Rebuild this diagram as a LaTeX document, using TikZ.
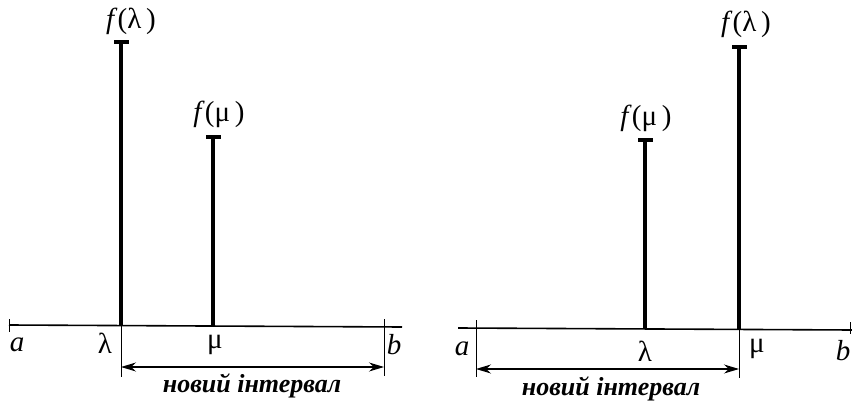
\documentclass[tikz,border=0pt]{standalone}
\usepackage{fontspec}
\setmainfont{Liberation Serif}
\usetikzlibrary{arrows.meta}
\tikzset{
  stem/.style={line width=3.6pt},
  capbar/.style={line width=3.6pt},
  axisline/.style={line width=1.6pt},
  thin/.style={line width=0.8pt},
  dimarrow/.style={line width=1.1pt,{Stealth[length=15pt,width=9pt]}-{Stealth[length=15pt,width=9pt]}},
  lbl/.style={inner sep=0pt,font=\fontsize{29}{32}\selectfont},
  intlbl/.style={inner sep=0pt,font=\fontsize{26}{30}\selectfont\bfseries\itshape},
}
\begin{document}
\begin{tikzpicture}[x=1pt,y=-1pt]
\useasboundingbox (0,0) rectangle (852,401);
% ---------- left diagram ----------
\coordinate (LA0) at (9,325);
\coordinate (LA1) at (402,327);
\draw[axisline] (LA0) -- (LA1);
\coordinate (LaT) at (9,319); \coordinate (LaB) at (9,332);
\draw[thin] (LaT) -- (LaB);
\coordinate (LbT) at (384,319); \coordinate (LbB) at (384,376);
\draw[thin] (LbT) -- (LbB);
% lambda stem
\coordinate (LlTop) at (121,42); \coordinate (LlBot) at (121,326);
\draw[stem] (LlTop) -- (LlBot);
\coordinate (LlC1) at (114,42); \coordinate (LlC2) at (129,42);
\draw[capbar] (LlC1) -- (LlC2);
\coordinate (LlD) at (121,377);
\draw[thin] (LlBot) -- (LlD);
% mu stem
\coordinate (LmTop) at (213,137); \coordinate (LmBot) at (213,326);
\draw[stem] (LmTop) -- (LmBot);
\coordinate (LmC1) at (206,137); \coordinate (LmC2) at (221,137);
\draw[capbar] (LmC1) -- (LmC2);
% arrow
\coordinate (LarL) at (121,367); \coordinate (LarR) at (384,367);
\draw[dimarrow] (LarL) -- (LarR);
% labels
\node[lbl] (La) at (17,345) {\itshape a};
\node[lbl] (Ll) at (105,343) {λ};
\node[lbl] (Lm) at (215,345) {μ};
\node[lbl] (Lb) at (394,345) {\itshape b};
\node[lbl] (Lfl) at (131,21) {\itshape f\/\upshape(λ\,)};
\node[lbl] (Lfm) at (219,114) {\itshape f\/\upshape(μ\,)};
\node[intlbl] (Lint) at (252,386) {новий інтервал};
% ---------- right diagram ----------
\coordinate (RA0) at (458,328);
\coordinate (RA1) at (852,330);
\draw[axisline] (RA0) -- (RA1);
\coordinate (RaT) at (476,320); \coordinate (RaB) at (476,377);
\draw[thin] (RaT) -- (RaB);
\coordinate (RbT) at (850,322); \coordinate (RbB) at (850,334);
\draw[thin] (RbT) -- (RbB);
% lambda stem
\coordinate (RlTop) at (645,140); \coordinate (RlBot) at (645,329);
\draw[stem] (RlTop) -- (RlBot);
\coordinate (RlC1) at (638,140); \coordinate (RlC2) at (653,140);
\draw[capbar] (RlC1) -- (RlC2);
% mu stem
\coordinate (RmTop) at (739,47); \coordinate (RmBot) at (739,330);
\draw[stem] (RmTop) -- (RmBot);
\coordinate (RmC1) at (732,47); \coordinate (RmC2) at (747,47);
\draw[capbar] (RmC1) -- (RmC2);
\coordinate (RmD) at (739,378);
\draw[thin] (RmBot) -- (RmD);
% arrow
\coordinate (RarL) at (476,369); \coordinate (RarR) at (739,369);
\draw[dimarrow] (RarL) -- (RarR);
% labels
\node[lbl] (Ra) at (462,349) {\itshape a};
\node[lbl] (Rl) at (645,351) {λ};
\node[lbl] (Rm) at (757,349) {μ};
\node[lbl] (Rb) at (843,351) {\itshape b};
\node[lbl] (Rfm) at (646,118) {\itshape f\/\upshape(μ\,)};
\node[lbl] (Rfl) at (746,24) {\itshape f\/\upshape(λ\,)};
\node[intlbl] (Rint) at (611,389) {новий інтервал};
\end{tikzpicture}
\end{document}
